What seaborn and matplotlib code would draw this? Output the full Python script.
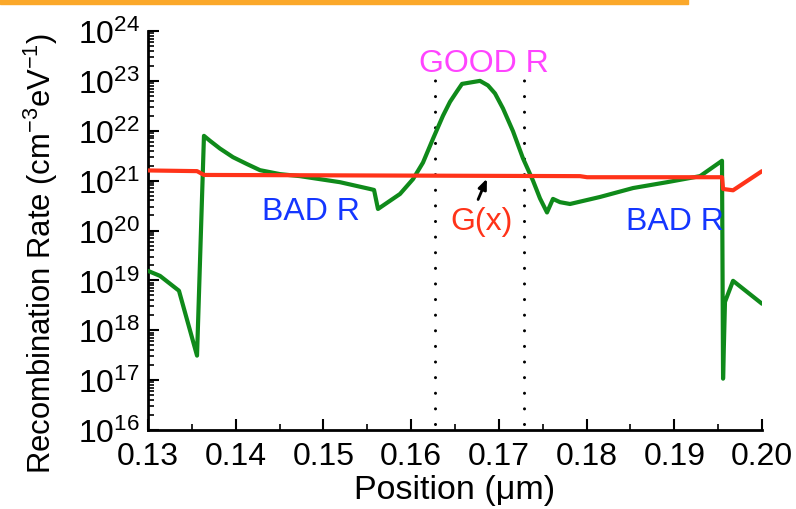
import numpy as np
import pandas as pd
import seaborn as sns
import matplotlib
matplotlib.use("Agg")
import matplotlib.pyplot as plt
from matplotlib.ticker import LogLocator, MultipleLocator, NullFormatter
from matplotlib.patches import Rectangle

# ---- data ----
green_x = [0.1300, 0.13137, 0.13353, 0.13559, 0.13638, 0.13706, 0.13820, 0.13969, 0.14128,
           0.14277, 0.14505, 0.14733, 0.15189, 0.15531, 0.15577, 0.15622, 0.15873, 0.16021,
           0.16135, 0.16249, 0.16363, 0.16443, 0.16523, 0.16580, 0.16785, 0.16876, 0.16956,
           0.17047, 0.17161, 0.17275, 0.17389, 0.17469, 0.17549, 0.17617, 0.17697, 0.17811,
           0.18153, 0.18530, 0.18917, 0.19294, 0.19408, 0.19544, 0.19556, 0.19578, 0.19670,
           0.2000]
green_y = [1.55e19, 1.23e19, 6.2e18, 3.1e17, 7.9e21, 6.3e21, 4.4e21, 2.95e21, 2.15e21,
           1.62e21, 1.35e21, 1.23e21, 9.3e20, 6.8e20, 6.5e20, 2.7e20, 5.4e20, 1.07e21,
           2.3e21, 6.9e21, 2.0e22, 3.8e22, 6.2e22, 8.7e22, 1.0e23, 8.1e22, 5.6e22,
           2.8e22, 9.8e21, 2.8e21, 1.0e21, 4.4e20, 2.3e20, 4.3e20, 3.7e20, 3.4e20,
           4.7e20, 7.1e20, 9.3e20, 1.23e21, 1.7e21, 2.5e21, 1.07e17, 3.7e18, 9.8e18,
           3.4e18]

red_x = [0.1300, 0.13559, 0.13638, 0.17925, 0.18005, 0.19544, 0.19556, 0.19670, 0.2000]
red_y = [1.6e21, 1.55e21, 1.3e21, 1.23e21, 1.17e21, 1.17e21, 6.8e20, 6.4e20, 1.55e21]

good_bounds = [0.1627, 0.1729]
x_ticks = [0.13, 0.14, 0.15, 0.16, 0.17, 0.18, 0.19, 0.20]
x_tick_labels = ["0.13", "0.14", "0.15", "0.16", "0.17", "0.18", "0.19", "0.20"]

sns.set_style("ticks")
plt.rcParams["font.family"] = ["Liberation Sans", "DejaVu Sans"]
plt.rcParams["mathtext.fontset"] = "custom"
plt.rcParams["mathtext.rm"] = "Liberation Sans"
plt.rcParams["mathtext.it"] = "Liberation Sans:italic"
plt.rcParams["mathtext.bf"] = "Liberation Sans:bold"
plt.rcParams["text.color"] = "black"
plt.rcParams["axes.labelcolor"] = "black"
plt.rcParams["xtick.color"] = "black"
plt.rcParams["ytick.color"] = "black"

fig = plt.figure(figsize=(7.96, 5.10), dpi=100)
ax = fig.add_axes([148 / 796, 1 - 431 / 510, (762 - 148) / 796, (431 - 32) / 510])

# orange decorative bar at top
fig.patches.append(Rectangle((0, 1 - 5 / 510), 688 / 796, 5 / 510, transform=fig.transFigure,
                             color="#FBA82A", zorder=0))

green_df = pd.DataFrame({"x": green_x, "y": green_y})
red_df = pd.DataFrame({"x": red_x, "y": red_y})
sns.lineplot(data=green_df, x="x", y="y", sort=False, estimator=None, color="#0f8a1a",
             linewidth=3.0, ax=ax, zorder=3)
sns.lineplot(data=red_df, x="x", y="y", sort=False, estimator=None, color="#ff3319",
             linewidth=3.0, ax=ax, zorder=4)

for xb in good_bounds:
    ax.plot([xb, xb], [1.3e16, 2.0e23], color="black", linewidth=2.2,
            linestyle=(0, (0.01, 5.1)), dash_capstyle="round", zorder=2)

ax.set_yscale("log")
ax.set_xlim(0.13, 0.20)
ax.set_ylim(1e16, 1e24)

ax.set_xticks(x_ticks)
ax.set_xticklabels(x_tick_labels)
ax.xaxis.set_minor_locator(MultipleLocator(0.005))
ax.yaxis.set_major_locator(LogLocator(base=10, numticks=20))
ax.yaxis.set_minor_locator(LogLocator(base=10, subs=np.arange(2, 10), numticks=20))
ax.yaxis.set_minor_formatter(NullFormatter())

ax.tick_params(axis="both", which="major", direction="in", length=8, width=1.5,
               labelsize=23, pad=8, colors="black")
ax.tick_params(axis="both", which="minor", direction="in", length=4, width=1.2, colors="black")
ax.tick_params(axis="y", which="major", pad=6)

for s in ["top", "right"]:
    ax.spines[s].set_visible(False)
for s in ["left", "bottom"]:
    ax.spines[s].set_linewidth(2)
    ax.spines[s].set_color("black")

ax.set_xlabel("Position (\u03bcm)", fontsize=24.5, labelpad=2, color="black")
ax.set_ylabel("Recombination Rate (cm$^{-3}$eV$^{-1}$)", fontsize=22.3, color="black")
ax.yaxis.set_label_coords(-0.143, 0.446)

ax.text(0.16831, 10 ** 23.35, "GOOD R", color="#ff44ff", fontsize=23, ha="center", va="center")
ax.text(0.14858, 10 ** 20.39, "BAD R", color="#1436ff", fontsize=23, ha="center", va="center")
ax.text(0.19008, 10 ** 20.19, "BAD R", color="#1436ff", fontsize=23, ha="center", va="center")
ax.text(0.16808, 10 ** 20.19, "G(x)", color="#ff3319", fontsize=23, ha="center", va="center")
ax.annotate("", xy=(0.16876, 10 ** 21.09), xytext=(0.16751, 10 ** 20.57),
            arrowprops=dict(arrowstyle="-|>,head_length=0.6,head_width=0.25", color="black",
                            lw=2), zorder=6)

ax.set_facecolor("white")
fig.patch.set_facecolor("white")
fig.savefig("out.png", dpi=100)
